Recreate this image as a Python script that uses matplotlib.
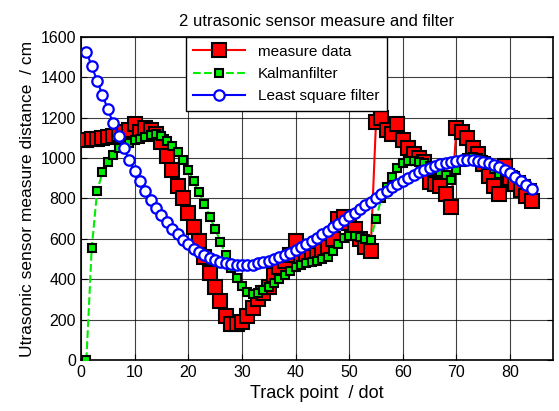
import numpy as np
import matplotlib
matplotlib.use("Agg")
import matplotlib.pyplot as plt

plt.rcParams['font.family'] = ['Liberation Sans', 'DejaVu Sans']

# track point index
track = list(range(1, 85))

# raw ultrasonic measurement
measure = [1090, 1095, 1095, 1100, 1105, 1110, 1120, 1130, 1140, 1170,
           1130, 1150, 1140, 1120, 1080, 1010, 940, 860, 800, 730,
           660, 590, 510, 430, 360, 290, 220, 180, 180, 190,
           220, 260, 300, 330, 360, 420, 460, 490, 520, 590,
           510, 500, 510, 520, 540, 560, 600, 700, 710, 680,
           650, 600, 560, 540, 1180, 1200, 1140, 1120, 1170, 1090,
           1050, 1020, 1000, 980, 880, 870, 860, 820, 760, 1150,
           1130, 1100, 1050, 1020, 970, 910, 860, 820, 960, 900,
           870, 840, 810, 790]

# kalman filter output
kalman = [0, 555, 835, 930, 980, 1015, 1050, 1060, 1075, 1090,
          1095, 1105, 1115, 1120, 1110, 1085, 1060, 1030, 990, 940,
          885, 830, 775, 710, 650, 585, 520, 455, 405, 365,
          335, 325, 330, 345, 360, 380, 400, 420, 440, 460,
          470, 480, 485, 490, 500, 510, 540, 575, 605, 615,
          615, 610, 600, 595, 700, 800, 855, 905, 950, 975,
          985, 985, 980, 975, 960, 945, 930, 915, 890, 940,
          980, 1000, 1005, 1000, 990, 970, 945, 920, 930, 925,
          910, 890, 870, 850]

# least square fit
lsq = [1528, 1455, 1384, 1312, 1242, 1173, 1109, 1048, 990, 936,
       886, 838, 795, 754, 716, 682, 650, 622, 596, 573,
       552, 534, 518, 505, 494, 485, 478, 474, 471, 470,
       471, 473, 478, 483, 490, 499, 509, 519, 531, 544,
       558, 573, 589, 605, 622, 639, 657, 675, 693, 711,
       730, 749, 767, 785, 803, 821, 838, 855, 871, 887,
       902, 916, 929, 941, 952, 961, 970, 977, 982, 987,
       989, 990, 989, 986, 982, 975, 966, 955, 942, 926,
       908, 888, 866, 848]

fig = plt.figure(figsize=(5.59, 4.11), dpi=100)
ax = fig.add_axes([0.1449, 0.1241, 0.8444, 0.7859])

ax.plot(track, measure, color='red', linewidth=1.5, marker='s', markersize=10.5,
        markerfacecolor='red', markeredgecolor='black', markeredgewidth=1.5,
        label='measure data', zorder=3)
ax.plot(track, kalman, color='#00ee00', linestyle='--', linewidth=1.5, marker='s',
        markersize=5.5, markerfacecolor='#00ee00', markeredgecolor='black',
        markeredgewidth=1.5, label='Kalmanfilter', zorder=4)
ax.plot(track, lsq, color='blue', linewidth=1.5, marker='o', markersize=7.5,
        markerfacecolor='white', markeredgecolor='blue', markeredgewidth=1.6,
        label='Least square filter', zorder=5)

ax.set_xlim(0, 88)
ax.set_ylim(0, 1600)
ax.set_xticks(np.arange(0, 81, 10))
ax.set_yticks(np.arange(0, 1601, 200))
ax.grid(True, color='black', linewidth=0.8, alpha=0.75)
ax.set_axisbelow(True)
ax.tick_params(direction='in', labelsize=11.5, right=True, top=False, length=4)
for s in ax.spines.values():
    s.set_linewidth(1.2)

ax.set_title('2 utrasonic sensor measure and filter', fontsize=12, pad=8)
ax.set_xlabel('Track point  / dot', fontsize=13)
ax.set_ylabel('Utrasonic sensor measure distance  / cm', fontsize=12.5)

leg = ax.legend(loc='upper left', bbox_to_anchor=(0.222, 1.0), borderaxespad=0,
                fontsize=11, fancybox=False, framealpha=1, edgecolor='black',
                handlelength=3.4, labelspacing=0.55, borderpad=0.5)
leg.get_frame().set_linewidth(1.0)

fig.savefig('out.png', dpi=100)
